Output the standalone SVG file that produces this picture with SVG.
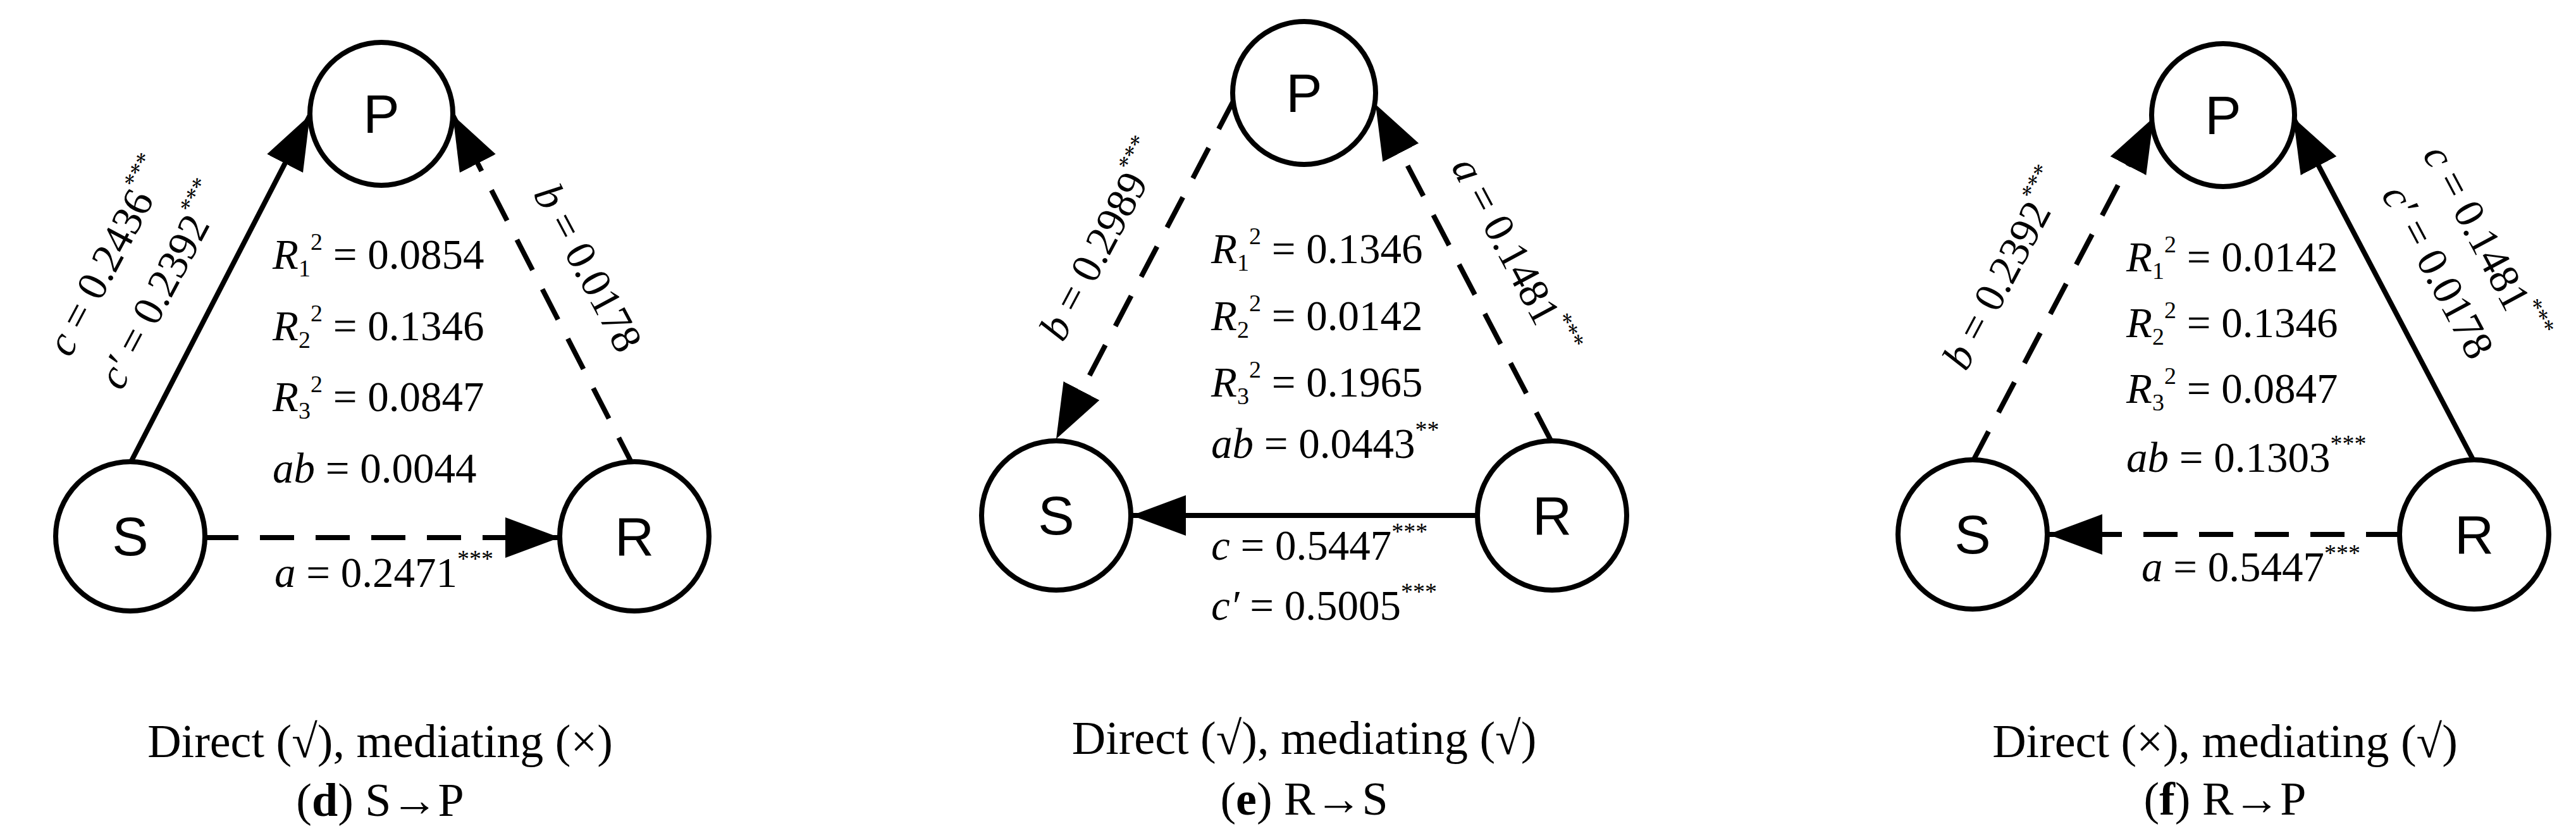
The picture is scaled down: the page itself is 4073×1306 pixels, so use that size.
<svg xmlns="http://www.w3.org/2000/svg" width="4073" height="1306" viewBox="0 0 4073 1306">
<style>
.n{fill:#fff;stroke:#000;stroke-width:8}
.nt{font-family:"Liberation Sans",Arial,sans-serif;font-size:86px;text-anchor:middle;dominant-baseline:central}
.e{stroke:#000;stroke-width:8;fill:none}
.d{stroke-dasharray:54 34}
.t{font-family:"Liberation Serif","Times New Roman",serif;font-size:67px}
.c{font-family:"Liberation Serif","Times New Roman",serif;font-size:74px;text-anchor:middle}
.i{font-style:italic}
.s{font-size:38px}
</style>
<defs>
<marker id="ah" markerUnits="userSpaceOnUse" markerWidth="96" markerHeight="70" refX="86" refY="32" orient="auto" viewBox="0 0 96 70">
<path d="M0,0 L86,32 L0,64 Z" fill="#000"/>
</marker>
</defs>
<g id="connectors">
<line class="e" x1="202" y1="740" x2="490" y2="182" marker-end="url(#ah)"/>
<line class="e d" x1="1003" y1="740" x2="716" y2="182" marker-end="url(#ah)"/>
<line class="e d" x1="323" y1="850" x2="885" y2="850" marker-end="url(#ah)"/>
<line class="e d" x1="1952" y1="156" x2="1670" y2="694" marker-end="url(#ah)"/>
<line class="e d" x1="2454" y1="700" x2="2175" y2="165" marker-end="url(#ah)"/>
<line class="e" x1="2336" y1="815" x2="1789" y2="815" marker-end="url(#ah)"/>
<line class="e d" x1="3119" y1="730" x2="3405" y2="186" marker-end="url(#ah)"/>
<line class="e" x1="3912" y1="730" x2="3626" y2="186" marker-end="url(#ah)"/>
<line class="e d" x1="3795" y1="845" x2="3238" y2="845" marker-end="url(#ah)"/>
</g>
<g id="d-P"><circle class="n" cx="603" cy="180" r="113"/><text class="nt" x="603" y="180">P</text></g>
<g id="d-S"><circle class="n" cx="206" cy="848" r="118"/><text class="nt" x="206" y="848">S</text></g>
<g id="d-R"><circle class="n" cx="1003" cy="848" r="118"/><text class="nt" x="1003" y="848">R</text></g>
<g id="e-P"><circle class="n" cx="2062" cy="147" r="113"/><text class="nt" x="2062" y="147">P</text></g>
<g id="e-S"><circle class="n" cx="1670" cy="815" r="118"/><text class="nt" x="1670" y="815">S</text></g>
<g id="e-R"><circle class="n" cx="2454" cy="815" r="118"/><text class="nt" x="2454" y="815">R</text></g>
<g id="f-P"><circle class="n" cx="3515" cy="182" r="113"/><text class="nt" x="3515" y="182">P</text></g>
<g id="f-S"><circle class="n" cx="3119" cy="845" r="118"/><text class="nt" x="3119" y="845">S</text></g>
<g id="f-R"><circle class="n" cx="3912" cy="845" r="118"/><text class="nt" x="3912" y="845">R</text></g>
<g id="labels-d">
<text class="t" x="431" y="425"><tspan class="i">R</tspan><tspan class="s" dy="12">1</tspan><tspan class="s" dy="-42">2</tspan><tspan dy="30"> = 0.0854</tspan></text>
<text class="t" x="431" y="538"><tspan class="i">R</tspan><tspan class="s" dy="12">2</tspan><tspan class="s" dy="-42">2</tspan><tspan dy="30"> = 0.1346</tspan></text>
<text class="t" x="431" y="650"><tspan class="i">R</tspan><tspan class="s" dy="12">3</tspan><tspan class="s" dy="-42">2</tspan><tspan dy="30"> = 0.0847</tspan></text>
<text class="t" x="431" y="763"><tspan class="i">ab</tspan> = 0.0044</text>
<text class="t" x="434" y="928"><tspan class="i">a</tspan> = 0.2471<tspan class="s" dy="-32">***</tspan></text>
<text class="t" text-anchor="middle" transform="translate(191,416) rotate(-62)"><tspan class="i">c</tspan> = 0.2436<tspan class="s" dy="-32">***</tspan></text>
<text class="t" text-anchor="middle" transform="translate(276,462) rotate(-62)"><tspan class="i">c′</tspan> = 0.2392<tspan class="s" dy="-32">***</tspan></text>
<text class="t" text-anchor="middle" transform="translate(910,434) rotate(62)"><tspan class="i">b</tspan> = 0.0178</text>
<text class="c" x="601" y="1197">Direct (√), mediating (×)</text>
<text class="c" x="601" y="1290">(<tspan font-weight="bold">d</tspan>) S→P</text>
</g>
<g id="labels-e">
<text class="t" x="1915" y="416"><tspan class="i">R</tspan><tspan class="s" dy="12">1</tspan><tspan class="s" dy="-42">2</tspan><tspan dy="30"> = 0.1346</tspan></text>
<text class="t" x="1915" y="522"><tspan class="i">R</tspan><tspan class="s" dy="12">2</tspan><tspan class="s" dy="-42">2</tspan><tspan dy="30"> = 0.0142</tspan></text>
<text class="t" x="1915" y="627"><tspan class="i">R</tspan><tspan class="s" dy="12">3</tspan><tspan class="s" dy="-42">2</tspan><tspan dy="30"> = 0.1965</tspan></text>
<text class="t" x="1915" y="724"><tspan class="i">ab</tspan> = 0.0443<tspan class="s" dy="-32">**</tspan></text>
<text class="t" x="1915" y="885"><tspan class="i">c</tspan> = 0.5447<tspan class="s" dy="-32">***</tspan></text>
<text class="t" x="1915" y="980"><tspan class="i">c′</tspan> = 0.5005<tspan class="s" dy="-32">***</tspan></text>
<text class="t" text-anchor="middle" transform="translate(1762,390) rotate(-62)"><tspan class="i">b</tspan> = 0.2989<tspan class="s" dy="-32">***</tspan></text>
<text class="t" text-anchor="middle" transform="translate(2375,416) rotate(62)"><tspan class="i">a</tspan> = 0.1481<tspan class="s" dy="-32">***</tspan></text>
<text class="c" x="2062" y="1192">Direct (√), mediating (√)</text>
<text class="c" x="2062" y="1288">(<tspan font-weight="bold">e</tspan>) R→S</text>
</g>
<g id="labels-f">
<text class="t" x="3362" y="429"><tspan class="i">R</tspan><tspan class="s" dy="12">1</tspan><tspan class="s" dy="-42">2</tspan><tspan dy="30"> = 0.0142</tspan></text>
<text class="t" x="3362" y="533"><tspan class="i">R</tspan><tspan class="s" dy="12">2</tspan><tspan class="s" dy="-42">2</tspan><tspan dy="30"> = 0.1346</tspan></text>
<text class="t" x="3362" y="637"><tspan class="i">R</tspan><tspan class="s" dy="12">3</tspan><tspan class="s" dy="-42">2</tspan><tspan dy="30"> = 0.0847</tspan></text>
<text class="t" x="3362" y="746"><tspan class="i">ab</tspan> = 0.1303<tspan class="s" dy="-32">***</tspan></text>
<text class="t" x="3386" y="919"><tspan class="i">a</tspan> = 0.5447<tspan class="s" dy="-32">***</tspan></text>
<text class="t" text-anchor="middle" transform="translate(3190,436) rotate(-62)"><tspan class="i">b</tspan> = 0.2392<tspan class="s" dy="-32">***</tspan></text>
<text class="t" text-anchor="middle" transform="translate(3910,395) rotate(62)"><tspan class="i">c</tspan> = 0.1481<tspan class="s" dy="-32">***</tspan></text>
<text class="t" text-anchor="middle" transform="translate(3835,440) rotate(62)"><tspan class="i">c′</tspan> = 0.0178</text>
<text class="c" x="3518" y="1197">Direct (×), mediating (√)</text>
<text class="c" x="3518" y="1288">(<tspan font-weight="bold">f</tspan>) R→P</text>
</g>
</svg>
